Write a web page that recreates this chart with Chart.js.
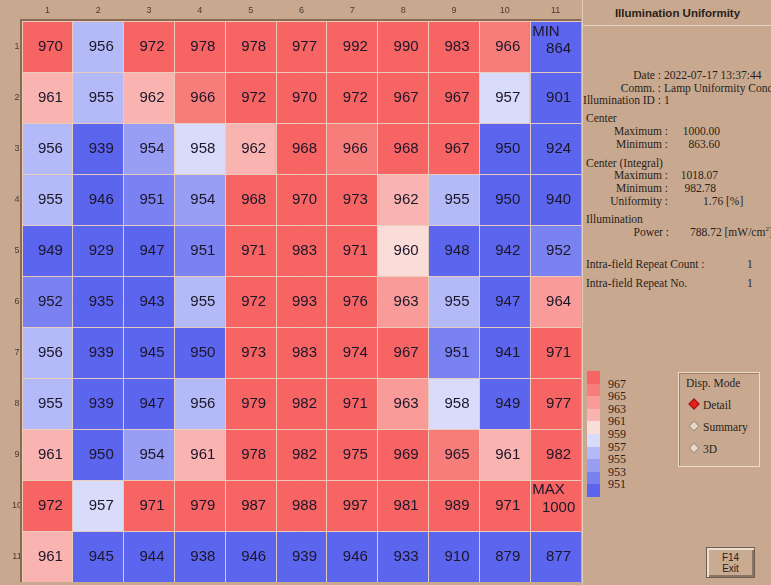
<!DOCTYPE html>
<html>
<head>
<meta charset="utf-8">
<script src="https://cdn.jsdelivr.net/npm/chart.js@4/dist/chart.umd.min.js"></script>
<style>
  html, body { margin: 0; padding: 0; }
  body { width: 771px; height: 585px; background: #c8a990; position: relative; overflow: hidden; }
  #heat { position: absolute; left: 0; top: 0; }
  #panel { position: absolute; left: 582px; top: 0; width: 189px; height: 585px; overflow: hidden;
           border-left: 1px solid #e2cdb8; box-sizing: border-box;
           font-family: 'Liberation Serif', 'DejaVu Serif', serif; font-size: 11.5px; color: #2a1e18; }
  #panel .t { position: absolute; white-space: nowrap; line-height: 14px; }
  #panel .r { text-align: right; }
  #title { position: absolute; left: 0; top: 7px; width: 189px; text-align: center;
           font-family: 'Liberation Sans', Arial, sans-serif; font-weight: bold; font-size: 11.5px; }
  #rule { position: absolute; left: 0; top: 25px; width: 189px; height: 0; border-top: 1px solid #e6d4c2; }
  #bar div { position: absolute; left: 4px; width: 13px; }
  #mode { position: absolute; left: 95px; top: 372px; width: 82px; height: 95px; box-sizing: border-box;
          border: 1px solid #ecdcca; box-shadow: inset 1px 1px 0 #9c8069; }
  .dia { position: absolute; width: 8px; height: 8px; transform: rotate(45deg); box-sizing: border-box; }
  #exit { position: absolute; left: 123px; top: 547px; width: 49px; height: 31px; box-sizing: border-box;
          border: 1px solid #6d5d52; box-shadow: inset 2px 2px 0 #eee0d0, inset -2px -2px 0 #8c7260;
          background: #c9ab92; text-align: center; font-family: 'Liberation Sans', Arial, sans-serif;
          font-size: 10px; line-height: 11px; padding-top: 4px; color: #2a1e18; }
</style>
</head>
<body>
<canvas id="heat" width="581" height="582"></canvas>
<div id="panel">
  <div id="title">Illumination Uniformity</div>
  <div id="rule"></div>
  <div id="info"></div>
  <div id="bar"></div>
  <div id="mode">
    <div class="t" style="left:7px;top:3px">Disp. Mode</div>
    <div class="dia" style="left:11px;top:27px;background:#e8201c;border:1px solid #a01010"></div>
    <div class="t" style="left:24px;top:25px">Detail</div>
    <div class="dia" style="left:11px;top:49px;background:#e8d8c8;border:1px solid #9a8878"></div>
    <div class="t" style="left:24px;top:47px">Summary</div>
    <div class="dia" style="left:11px;top:71px;background:#e8d8c8;border:1px solid #9a8878"></div>
    <div class="t" style="left:24px;top:69px">3D</div>
  </div>
  <div id="exit">F14<br>Exit</div>
</div>
<script>
const columns = ['1', '2', '3', '4', '5', '6', '7', '8', '9', '10', '11'];
const rows = ['1', '2', '3', '4', '5', '6', '7', '8', '9', '10', '11'];

const row1 = [970, 956, 972, 978, 978, 977, 992, 990, 983, 966, 864];
const row2 = [961, 955, 962, 966, 972, 970, 972, 967, 967, 957, 901];
const row3 = [956, 939, 954, 958, 962, 968, 966, 968, 967, 950, 924];
const row4 = [955, 946, 951, 954, 968, 970, 973, 962, 955, 950, 940];
const row5 = [949, 929, 947, 951, 971, 983, 971, 960, 948, 942, 952];
const row6 = [952, 935, 943, 955, 972, 993, 976, 963, 955, 947, 964];
const row7 = [956, 939, 945, 950, 973, 983, 974, 967, 951, 941, 971];
const row8 = [955, 939, 947, 956, 979, 982, 971, 963, 958, 949, 977];
const row9 = [961, 950, 954, 961, 978, 982, 975, 969, 965, 961, 982];
const row10 = [972, 957, 971, 979, 987, 988, 997, 981, 989, 971, 1000];
const row11 = [961, 945, 944, 938, 946, 939, 946, 933, 910, 879, 877];
const values = [row1, row2, row3, row4, row5, row6, row7, row8, row9, row10, row11];

// colour bins, low -> high, split at these edges
const binEdges = [951, 953, 955, 957, 959, 961, 963, 965, 967];
const binColors = ['#5b65ee', '#7a82f1', '#979ef4', '#b4b9f7', '#d9dbfa',
                   '#fadcd8', '#f9b4b2', '#f89b99', '#f77d7b', '#f66464'];
const legendTicks = [967, 965, 963, 961, 959, 957, 955, 953, 951];

const info = [
  ['Date :', '2022-07-17 13:37:44', 75],
  ['Comm. :', 'Lamp Uniformity Cond', 88],
  ['Illumination ID :', '1', 100]
];
const stats = [
  ['Maximum :', '1000.00', 131],
  ['Minimum :', '863.60', 144],
  ['Maximum :', '1018.07', 175],
  ['Minimum :', '982.78', 188]
];

function colorFor(v) {
  let i = 0;
  while (i < binEdges.length && v >= binEdges[i]) i++;
  return binColors[i];
}

// ---- right panel text ----
const px = 582;
let html = '';
function label(text, right, y) {
  html += `<div class="t r" style="left:${right - px - 160}px;width:160px;top:${y - 7}px">${text}</div>`;
}
function text(t, left, y) {
  html += `<div class="t" style="left:${left - px}px;top:${y - 7}px">${t}</div>`;
}
info.forEach(([l, v, y]) => { label(l, 660, y); text(v, 663, y); });
text('Center', 585, 118);
text('Center (Integral)', 585, 163);
stats.forEach(([l, v, y], i) => { label(l, 667, y); label(v, i < 2 ? 719 : 717 - (i - 2) * 2, y); });
label('Uniformity :', 667, 201); text('1.76 [%]', 702, 201);
text('Illumination', 585, 219);
label('Power :', 668, 232); text('788.72 [mW/cm<sup style="font-size:7px;line-height:0">2</sup>]', 689, 232);
text('Intra-field Repeat Count :', 585, 264); text('1', 746, 264);
text('Intra-field Repeat No.', 585, 283); text('1', 746, 283);
document.getElementById('info').innerHTML = html;

// colour bar, top = highest
let bar = '';
const binH = 12.6;
binColors.slice().reverse().forEach((c, i) => {
  bar += `<div style="top:${371 + i * binH}px;height:${binH + 0.5}px;background:${c}"></div>`;
});
legendTicks.forEach((t, i) => {
  bar += `<div class="t" style="left:25px;width:30px;top:${371 + (i + 1) * binH - 7}px;background:none;font-size:12px">${t}</div>`;
});
document.getElementById('bar').innerHTML = bar;

// ---- heat map ----
const flat = values.flat();
const vMin = Math.min(...flat);
const vMax = Math.max(...flat);
const lineColor = 'rgba(236,206,186,0.95)';

const cellLabels = {
  id: 'cellLabels',
  afterDatasetsDraw(chart) {
    const ctx = chart.ctx;
    ctx.save();
    ctx.font = '15px "Liberation Sans", Arial, sans-serif';
    ctx.fillStyle = '#1c1628';
    ctx.textAlign = 'center';
    ctx.textBaseline = 'middle';
    values.forEach((row, r) => {
      const meta = chart.getDatasetMeta(r);
      row.forEach((v, c) => {
        const el = meta.data[c];
        const top = Math.min(el.y, el.base);
        const cy = (el.y + el.base) / 2;
        let dy = 0;
        if (v === vMin || v === vMax) {
          ctx.textAlign = 'left';
          ctx.fillText(v === vMin ? 'MIN' : 'MAX', el.x - el.width / 2 + 2, top + 10);
          ctx.textAlign = 'center';
          dy = 2;
        }
        ctx.fillText(String(v), el.x + 3, cy + dy);
      });
    });
    ctx.restore();
  }
};

const frame = {
  id: 'frame',
  afterDraw(chart) {
    const { ctx, chartArea: a } = chart;
    ctx.save();
    ctx.strokeStyle = '#8a6a54';
    ctx.lineWidth = 2;
    ctx.beginPath();
    ctx.moveTo(a.left - 1, a.bottom);
    ctx.lineTo(a.left - 1, a.top - 1);
    ctx.lineTo(a.right, a.top - 1);
    ctx.stroke();
    ctx.restore();
  }
};

new Chart(document.getElementById('heat'), {
  type: 'bar',
  data: {
    labels: columns,
    datasets: values.map((row, r) => ({
      label: 'Row ' + rows[r],
      data: row.map(() => [r, r + 1]),
      backgroundColor: row.map(colorFor),
      borderWidth: 0,
      grouped: false,
      categoryPercentage: 1,
      barPercentage: 1
    }))
  },
  options: {
    responsive: false,
    animation: false,
    devicePixelRatio: 1,
    layout: { padding: 0 },
    plugins: { legend: { display: false }, tooltip: { enabled: false } },
    scales: {
      x: {
        position: 'top',
        offset: true,
        grid: { offset: true, color: lineColor, z: 1, drawTicks: false },
        border: { display: false },
        ticks: { color: '#4a3a30', padding: 5, font: { family: 'Liberation Sans', size: 9 } },
        afterFit(s) { s.height = 21; s.paddingLeft = 0; s.paddingRight = 0; }
      },
      y: {
        min: 0,
        max: rows.length,
        reverse: true,
        afterBuildTicks(s) {
          s.ticks = [];
          for (let i = 0; i <= rows.length * 2; i++) s.ticks.push({ value: i / 2 });
        },
        grid: {
          z: 1,
          drawTicks: false,
          color: (c) => (c.tick && Number.isInteger(c.tick.value) ? lineColor : 'transparent')
        },
        border: { display: false },
        ticks: {
          autoSkip: false,
          crossAlign: 'center',
          padding: 0,
          color: '#4a3a30',
          font: { family: 'Liberation Sans', size: 9 },
          callback: (v) => (Number.isInteger(v) ? '' : rows[Math.floor(v)])
        },
        afterFit(s) { s.width = 22; s.paddingTop = 0; s.paddingBottom = 0; }
      }
    }
  },
  plugins: [cellLabels, frame]
});
</script>
</body>
</html>
